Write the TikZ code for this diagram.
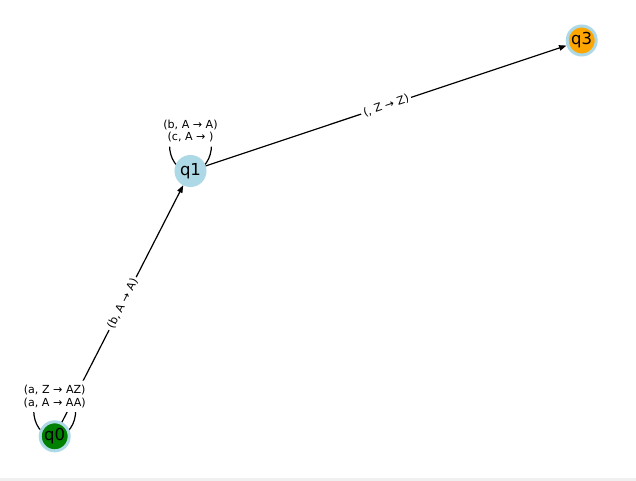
\documentclass[tikz,border=0pt]{standalone}
\usepackage{fontspec}
\setmainfont{DejaVu Sans}
\usetikzlibrary{arrows.meta}
\pgfdeclarelayer{bg}
\pgfsetlayers{bg,main}
\definecolor{lblue}{HTML}{ADD8E6}
\definecolor{qgreen}{HTML}{008000}
\definecolor{qorange}{HTML}{FFA500}
\definecolor{strip}{HTML}{F0F0F0}
\tikzset{
  state/.style={circle, minimum size=29pt, inner sep=0pt, line width=3pt, draw=lblue,
    font=\fontsize{16.5}{18}\selectfont},
  conn/.style={line width=1.2pt, -{Triangle[length=7.5pt,width=5.5pt]}},
  loopline/.style={line width=1.2pt},
  elabel/.style={fill=white, rounded corners=3pt, inner sep=2.5pt, align=center,
    font=\fontsize{11.1}{12.5}\selectfont},
  looplabel/.style={elabel, inner xsep=3pt, inner ysep=4.5pt},
}
\begin{document}
\begin{tikzpicture}[x=1pt,y=-1pt]
\useasboundingbox (0,0) rectangle (636,481);
\node[state, fill=qgreen] (q0) at (54.7,436.3) {q0};
\node[state, fill=lblue] (q1) at (190.5,171) {q1};
\node[state, fill=qorange] (q3) at (581.7,40.5) {q3};
\begin{pgfonlayer}{bg}
\fill[white] (0,0) rectangle (636,481);
\fill[strip] (0,478) rectangle (636,481);
\draw[loopline] ([shift={(0,-52)}]q0.center) .. controls +(28,0) and +(28,0) .. (q0.center)
  .. controls +(-28,0) and +(-28,0) .. ([shift={(0,-52)}]q0.center);
\draw[loopline] ([shift={(0,-52)}]q1.center) .. controls +(28,0) and +(28,0) .. (q1.center)
  .. controls +(-28,0) and +(-28,0) .. ([shift={(0,-52)}]q1.center);
\end{pgfonlayer}
\draw[conn] (q0) -- node[elabel, sloped] {(b, A → A)} (q1);
\draw[conn] (q1) -- node[elabel, sloped] {(, Z → Z)} (q3);
\node[looplabel] (l0) at ([shift={(0,-40)}]q0.center) {(a, Z → AZ)\\(a, A → AA)};
\node[looplabel] (l1) at ([shift={(0,-40)}]q1.center) {(b, A → A)\\(c, A → )};
\end{tikzpicture}
\end{document}
